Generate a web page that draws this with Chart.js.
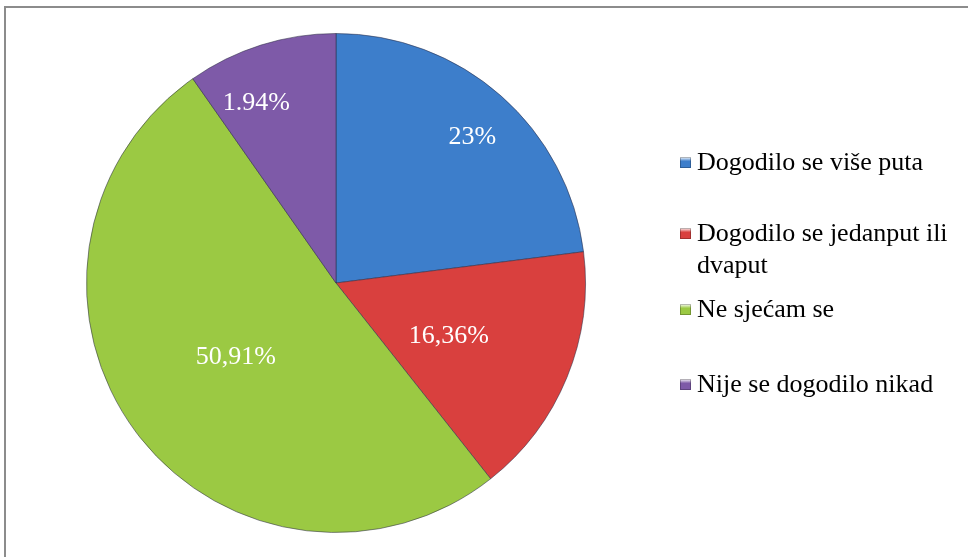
<!DOCTYPE html>
<html>
<head>
<meta charset="utf-8">
<script src="https://cdn.jsdelivr.net/npm/chart.js@4.4.1/dist/chart.umd.min.js"></script>
<style>
  html, body { margin: 0; padding: 0; background: #fff; overflow: hidden; }
  #frame { position: absolute; left: 4px; top: 6px; width: 980px; height: 580px; border: 2px solid #8c8c8c; box-sizing: border-box; }
  #wrap { position: absolute; left: 0; top: 0; width: 968px; height: 557px; }
</style>
</head>
<body>
<div id="frame"></div>
<div id="wrap"><canvas id="pie" width="968" height="557"></canvas></div>
<script>
// categories and values
const categories = ['Dogodilo se više puta', 'Dogodilo se jedanput ili dvaput', 'Ne sjećam se', 'Nije se dogodilo nikad'];
const values = [23, 16.36, 50.91, 9.73];
// labels as printed on the slices
const valueLabels = ['23%', '16,36%', '50,91%', '1.94%'];
const colors = ['#3d7ecb', '#d9403e', '#9bc943', '#7e5aa8'];

// label placement: fraction of radius, fraction of the slice's angle
const labelRadius = [0.8, 0.5, 0.5, 0.79];
const labelAngle = [0.52, 0.55, 0.5, 0.32];
const legendY = [163, 234, 310, 385];
const font = '"Liberation Serif", "Times New Roman", serif';

const sliceLabels = {
  id: 'sliceLabels',
  afterDatasetsDraw(chart) {
    const ctx = chart.ctx;
    const meta = chart.getDatasetMeta(0);
    ctx.save();
    ctx.fillStyle = '#fff';
    ctx.font = '26px ' + font;
    ctx.textAlign = 'center';
    ctx.textBaseline = 'middle';
    meta.data.forEach((arc, i) => {
      const a = arc.startAngle + (arc.endAngle - arc.startAngle) * labelAngle[i];
      const r = arc.outerRadius * labelRadius[i];
      ctx.fillText(valueLabels[i], arc.x + Math.cos(a) * r, arc.y + Math.sin(a) * r);
    });
    ctx.restore();
  }
};

const sideLegend = {
  id: 'sideLegend',
  afterDraw(chart) {
    const ctx = chart.ctx;
    const x = 680, maxW = 262, lineH = 32;
    ctx.save();
    ctx.font = '26px ' + font;
    ctx.textBaseline = 'middle';
    categories.forEach((name, i) => {
      const y = legendY[i];
      const g = ctx.createLinearGradient(x, y - 6, x, y + 6);
      g.addColorStop(0, '#fff');
      g.addColorStop(0.35, colors[i]);
      g.addColorStop(1, colors[i]);
      ctx.fillStyle = g;
      ctx.fillRect(x, y - 6, 11, 11);
      ctx.strokeStyle = 'rgba(0,0,0,0.25)';
      ctx.lineWidth = 1;
      ctx.strokeRect(x + 0.5, y - 5.5, 10, 10);
      // wrap long names
      const words = name.split(' ');
      const lines = [];
      let cur = '';
      words.forEach(w => {
        const t = cur ? cur + ' ' + w : w;
        if (ctx.measureText(t).width > maxW && cur) { lines.push(cur); cur = w; } else cur = t;
      });
      lines.push(cur);
      ctx.fillStyle = '#000';
      lines.forEach((l, j) => ctx.fillText(l, x + 17, y + j * lineH));
    });
    ctx.restore();
  }
};

new Chart(document.getElementById('pie').getContext('2d'), {
  type: 'pie',
  data: {
    labels: categories,
    datasets: [{
      data: values,
      backgroundColor: colors,
      borderColor: 'rgba(45,45,70,0.55)',
      borderWidth: 1
    }]
  },
  options: {
    responsive: false,
    animation: false,
    layout: { padding: { left: 86, right: 382, top: 33, bottom: 24 } },
    plugins: {
      legend: { display: false },
      tooltip: { enabled: false }
    }
  },
  plugins: [sliceLabels, sideLegend]
});
</script>
</body>
</html>
